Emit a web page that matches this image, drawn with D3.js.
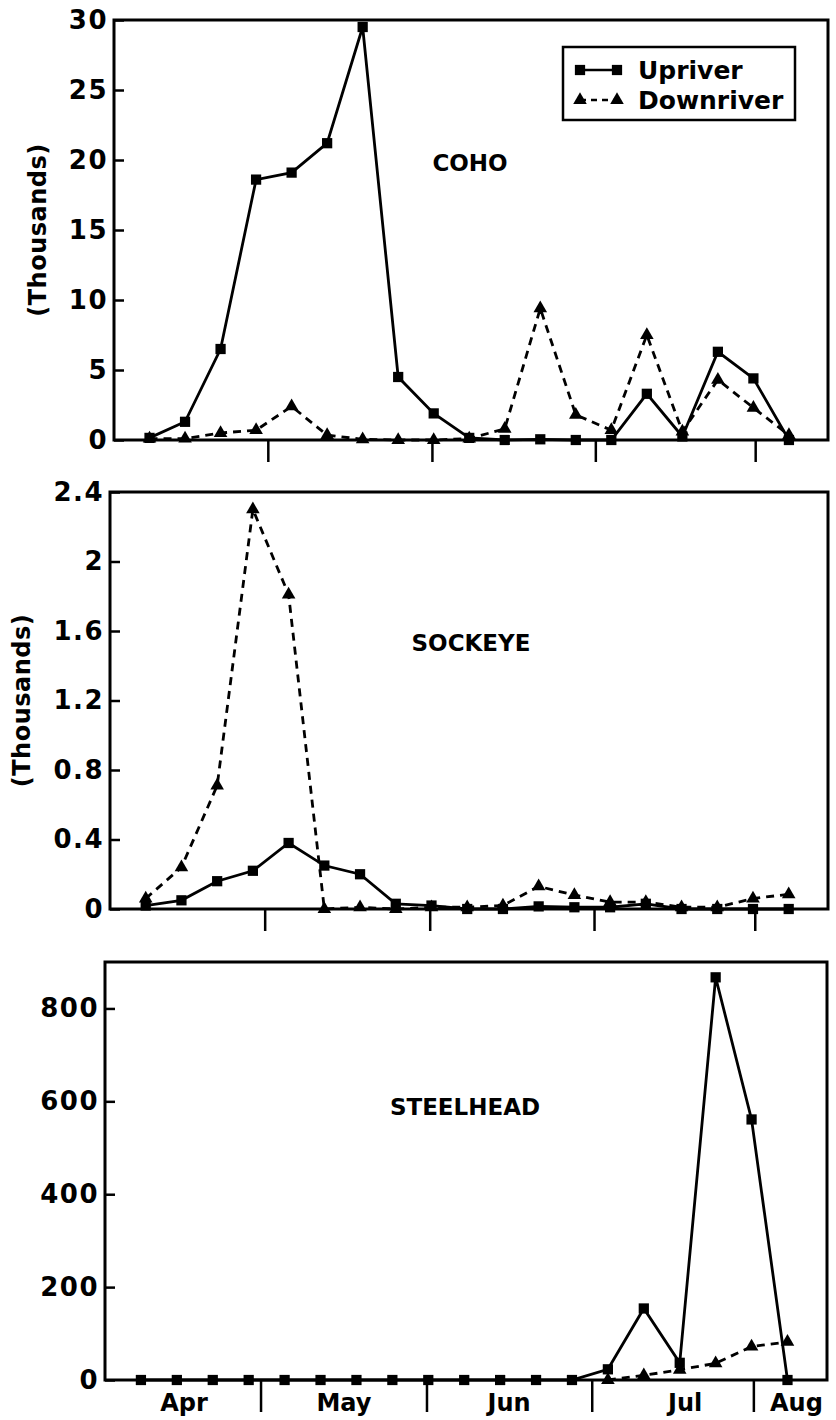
<!DOCTYPE html>
<html>
<head>
<meta charset="utf-8">
<script src="https://cdn.jsdelivr.net/npm/d3@7"></script>
<style>
  body { margin: 0; background: #fff; }
  text { font-family: "DejaVu Sans", sans-serif; font-weight: bold; fill: #000; }
</style>
</head>
<body>
<div id="chart"></div>
<script>
// weekly samples (index), month boundaries in the same units
const weeks = [0, 1, 2, 3, 4, 5, 6, 7, 8, 9, 10, 11, 12, 13, 14, 15, 16, 17, 18];
const monthBounds = [3.33, 7.95, 12.55, 17.05];
const monthNames = ["Apr", "May", "Jun", "Jul", "Aug"];
const monthLabelPos = [1.2, 5.65, 10.25, 15.15, 18.25];

// COHO (thousands)
const cohoUp = [0.15, 1.3, 6.5, 18.6, 19.1, 21.2, 29.5, 4.5, 1.9, 0.15, 0, 0.05, 0, 0, 3.3, 0.25, 6.3, 4.4, 0];
const cohoDown = [0.1, 0.1, 0.5, 0.7, 2.4, 0.35, 0.05, 0, 0, 0.1, 0.8, 9.4, 1.8, 0.7, 7.5, 0.6, 4.3, 2.3, 0.35];
const cohoTicks = [0, 5, 10, 15, 20, 25, 30];

// SOCKEYE (thousands)
const sockUp = [0.02, 0.05, 0.16, 0.22, 0.38, 0.25, 0.2, 0.03, 0.02, 0, 0, 0.015, 0.01, 0.01, 0.03, 0, 0, 0, 0];
const sockDown = [0.06, 0.24, 0.71, 2.3, 1.81, 0, 0.01, 0, 0.01, 0.01, 0.02, 0.13, 0.08, 0.04, 0.04, 0.01, 0.01, 0.06, 0.085];
const sockTicks = [0, 0.4, 0.8, 1.2, 1.6, 2, 2.4];

// STEELHEAD (fish)
const steelUp = [0, 0, 0, 0, 0, 0, 0, 0, 0, 0, 0, 0, 0, 23, 154, 37, 867, 561, 0];
const steelDown = [null, null, null, null, null, null, null, null, null, null, null, null, null, 0, 10, 22, 36, 72, 82];
const steelTicks = [0, 200, 400, 600, 800];

const W = 836, H = 1420;

const panels = [
  { name: "COHO", up: cohoUp, down: cohoDown, ticks: cohoTicks, max: 30,
    left: 114, right: 828, top: 20, bottom: 440, yLabel: true, labelX: 38,
    nameX: 470, nameY: 163, tickLen: 22, months: false },
  { name: "SOCKEYE", up: sockUp, down: sockDown, ticks: sockTicks, max: 2.4,
    left: 110, right: 828, top: 492, bottom: 909, yLabel: true, labelX: 22,
    nameX: 471, nameY: 643, tickLen: 22, months: false },
  { name: "STEELHEAD", up: steelUp, down: steelDown, ticks: steelTicks, max: 900,
    left: 105, right: 827, top: 962, bottom: 1380, yLabel: false,
    nameX: 465, nameY: 1107, tickLen: 32, months: true }
];

const svg = d3.select("#chart")
  .append("svg")
  .attr("width", W)
  .attr("height", H);

const square = d3.symbol().type(d3.symbolSquare).size(105);
const triangle = d3.symbol().type(d3.symbolTriangle).size(80);

panels.forEach(function(p) {
  const x = d3.scaleLinear().domain([-1, 19.1]).range([p.left, p.right]);
  const y = d3.scaleLinear().domain([0, p.max]).range([p.bottom, p.top]);

  const g = svg.append("g");

  // y axis (ticks pointing inward)
  const yAxis = g.append("g")
    .attr("transform", "translate(" + p.left + ",0)")
    .call(d3.axisLeft(y)
      .tickValues(p.ticks)
      .tickSize(-10)
      .tickPadding(6)
      .tickFormat(function(d) { return String(+d.toFixed(1)); }));
  yAxis.select(".domain").remove();
  yAxis.selectAll("line").attr("stroke", "#000").attr("stroke-width", 2.5);
  yAxis.selectAll("text")
    .style("font-size", "26px")
    .style("letter-spacing", "1.5px")
    .attr("fill", "#000");

  // month boundary ticks below the axis
  const xAxis = g.append("g")
    .attr("transform", "translate(0," + p.bottom + ")")
    .call(d3.axisBottom(x)
      .tickValues(monthBounds)
      .tickSize(p.tickLen)
      .tickFormat(""));
  xAxis.select(".domain").remove();
  xAxis.selectAll("line").attr("stroke", "#000").attr("stroke-width", 2.5);

  if (p.months) {
    g.selectAll(".month")
      .data(monthNames)
      .enter()
      .append("text")
      .attr("x", function(d, i) { return x(monthLabelPos[i]); })
      .attr("y", p.bottom + 31)
      .attr("text-anchor", "middle")
      .style("font-size", "24px")
      .text(function(d) { return d; });
  }

  // frame
  g.append("rect")
    .attr("x", p.left)
    .attr("y", p.top)
    .attr("width", p.right - p.left)
    .attr("height", p.bottom - p.top)
    .attr("fill", "none")
    .attr("stroke", "#000")
    .attr("stroke-width", 3);

  if (p.yLabel) {
    g.append("text")
      .attr("transform", "translate(" + p.labelX + "," + (p.top + p.bottom) / 2 + ") rotate(-90)")
      .attr("text-anchor", "middle")
      .attr("dy", "0.35em")
      .style("font-size", "24px")
      .style("letter-spacing", "0.5px")
      .text("(Thousands)");
  }

  g.append("text")
    .attr("x", p.nameX)
    .attr("y", p.nameY)
    .attr("dy", "0.36em")
    .attr("text-anchor", "middle")
    .style("font-size", "23px")
    .text(p.name);

  const line = d3.line()
    .defined(function(d) { return d[1] != null; })
    .x(function(d) { return x(d[0]); })
    .y(function(d) { return y(d[1]); });

  const upPts = weeks.map(function(w, i) { return [w, p.up[i]]; });
  const downPts = weeks.map(function(w, i) { return [w, p.down[i]]; });

  // Downriver: dashed with triangles
  g.append("path")
    .datum(downPts)
    .attr("d", line)
    .attr("fill", "none")
    .attr("stroke", "#000")
    .attr("stroke-width", 2.8)
    .attr("stroke-dasharray", "8,6");
  g.selectAll(".tri")
    .data(downPts.filter(function(d) { return d[1] != null; }))
    .enter()
    .append("path")
    .attr("d", triangle)
    .attr("transform", function(d) { return "translate(" + x(d[0]) + "," + y(d[1]) + ")"; })
    .attr("fill", "#000");

  // Upriver: solid with squares
  g.append("path")
    .datum(upPts)
    .attr("d", line)
    .attr("fill", "none")
    .attr("stroke", "#000")
    .attr("stroke-width", 2.8);
  g.selectAll(".sq")
    .data(upPts)
    .enter()
    .append("path")
    .attr("d", square)
    .attr("transform", function(d) { return "translate(" + x(d[0]) + "," + y(d[1]) + ")"; })
    .attr("fill", "#000");
});

// Legend (top panel)
const legend = svg.append("g");
legend.append("rect")
  .attr("x", 563).attr("y", 47)
  .attr("width", 232).attr("height", 73)
  .attr("fill", "#fff")
  .attr("stroke", "#000")
  .attr("stroke-width", 2.5);

const legendItems = [
  { label: "Upriver", sym: square, dash: null, y: 70 },
  { label: "Downriver", sym: triangle, dash: "6,5", y: 100 }
];
legendItems.forEach(function(it) {
  legend.append("line")
    .attr("x1", 580).attr("x2", 617)
    .attr("y1", it.y).attr("y2", it.y)
    .attr("stroke", "#000")
    .attr("stroke-width", 2.5)
    .attr("stroke-dasharray", it.dash);
  [580, 617].forEach(function(px) {
    legend.append("path")
      .attr("d", it.sym)
      .attr("transform", "translate(" + px + "," + it.y + ")")
      .attr("fill", "#000");
  });
  legend.append("text")
    .attr("x", 638)
    .attr("y", it.y)
    .attr("dy", "0.36em")
    .style("font-size", "25px")
    .text(it.label);
});
</script>
</body>
</html>
